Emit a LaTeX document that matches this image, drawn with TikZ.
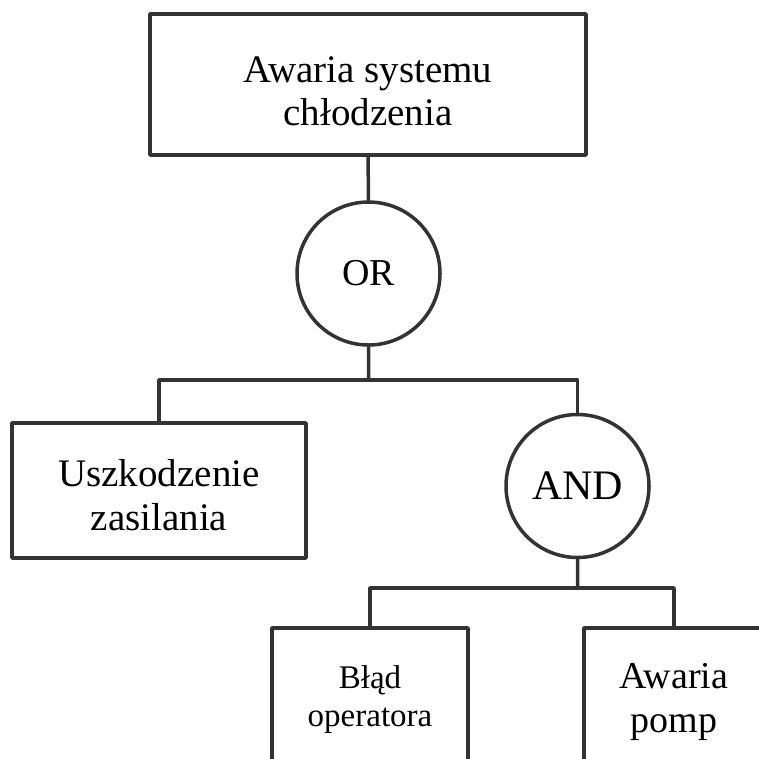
\documentclass[tikz,border=0pt]{standalone}
\usepackage{fontspec}
\setmainfont{Liberation Serif}
\begin{document}
\begin{tikzpicture}[line join=round, line cap=round, x=1pt, y=-1pt]
	\def\fs(#1,#2){\fontsize{#1}{#2}\selectfont}
	\tikzset{event/.style={draw=black!80, line width=3.5pt, inner sep=0pt, align=center},
		gate/.style={event, circle, minimum size=143pt},
		txt/.style={align=center, inner sep=0pt}}
	\useasboundingbox (0,0) rectangle (759,758);
	\clip (0,0) rectangle (759,758);
	%\draw[color=gray!50] (0,0) grid[step=50] (759,758);
	\node[event, minimum width=436pt, minimum height=141pt,
		label={[txt, font={\fs(39,43)}, yshift=-7pt]center:Awaria systemu\\chłodzenia}] (top) at (368,84.5) {};
	\node[gate, font={\fs(38,43)}] (gor) at (368.5,273.5) {OR};
	\node[event, minimum width=294pt, minimum height=135pt,
		label={[txt, font={\fs(39,44)}, yshift=-5pt]center:Uszkodzenie\\zasilania}] (usz) at (159,490.5) {};
	\node[gate, font={\fs(42,46)}] (gand) at (577.5,486) {AND};
	\node[event, minimum width=196pt, minimum height=144pt,
		label={[txt, font={\fs(33,38)}]center:Błąd\\operatora}] (blad) at (370,700) {};
	\node[event, minimum width=180pt, minimum height=144pt,
		label={[txt, font={\fs(38,44)}, yshift=-2pt]center:Awaria\\pomp}] (pomp) at (674,700) {};
	\coordinate (orbar) at (368.5,380);
	\coordinate (andbar) at (577.5,588);
	\draw[black!80, line width=3.5pt] (top) -- (gor) (gor) -- (orbar) (gand) -- (andbar);
	\foreach \n/\c in {usz/orbar, gand/orbar, blad/andbar, pomp/andbar}
		\draw[black!80, line width=3.5pt] (\n.north) |- (\c);
\end{tikzpicture}
\end{document}
